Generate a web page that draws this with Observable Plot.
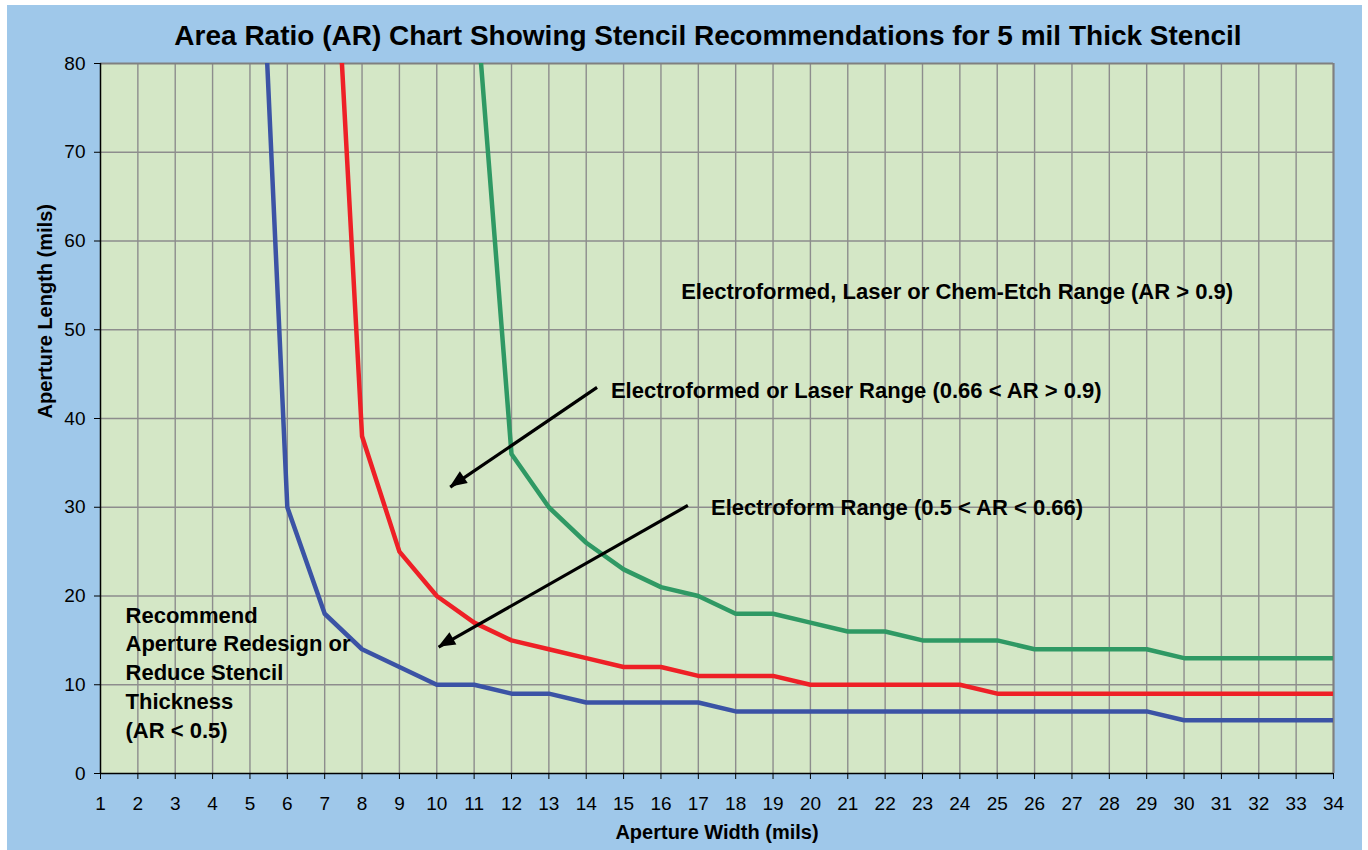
<!DOCTYPE html>
<html>
<head>
<meta charset="utf-8">
<script src="https://cdn.jsdelivr.net/npm/d3@7"></script>
<script src="https://cdn.jsdelivr.net/npm/@observablehq/plot@0.6"></script>
<style>
  html, body { margin: 0; padding: 0; background: #ffffff; }
  #panel { position: absolute; left: 7px; top: 5px; width: 1355px; height: 845px; background: #9fc8ea; font-family: "Liberation Sans", Arial, sans-serif; }
  #title { position: absolute; left: 0; top: 16px; width: 1402px; text-align: center; font-size: 28px; font-weight: bold; line-height: 29px; color: #000; white-space: nowrap; }
  #chart { position: absolute; left: 0; top: 45px; }
</style>
</head>
<body>
<div id="panel">
  <div id="title">Area Ratio (AR) Chart Showing Stencil Recommendations for 5 mil Thick Stencil</div>
  <div id="chart"></div>
</div>
<script>
// ---- data ----
const xTicks = [1,2,3,4,5,6,7,8,9,10,11,12,13,14,15,16,17,18,19,20,21,22,23,24,25,26,27,28,29,30,31,32,33,34];
const yTicks = [0,10,20,30,40,50,60,70,80];

// AR = 0.5 curve (blue)
const blueWidths  = [5,6,7,8,9,10,11,12,13,14,15,16,17,18,19,20,21,22,23,24,25,26,27,28,29,30,31,32,33,34];
const blueLengths = [123,30,18,14,12,10,10,9,9,8,8,8,8,7,7,7,7,7,7,7,7,7,7,7,7,6,6,6,6,6];

// AR = 0.66 curve (red)
const redWidths  = [7,8,9,10,11,12,13,14,15,16,17,18,19,20,21,22,23,24,25,26,27,28,29,30,31,32,33,34];
const redLengths = [116,38,25,20,17,15,14,13,12,12,11,11,11,10,10,10,10,10,9,9,9,9,9,9,9,9,9,9];

// AR = 0.9 curve (green)
const greenWidths  = [11,12,13,14,15,16,17,18,19,20,21,22,23,24,25,26,27,28,29,30,31,32,33,34];
const greenLengths = [90,36,30,26,23,21,20,18,18,17,16,16,15,15,15,14,14,14,14,13,13,13,13,13];

// annotation texts and their anchor points (data units)
const noteTexts = [
  "Electroformed, Laser or Chem-Etch Range (AR > 0.9)",
  "Electroformed or Laser Range (0.66 < AR > 0.9)",
  "Electroform Range (0.5 < AR < 0.66)",
  "Recommend\nAperture Redesign or\nReduce Stencil\nThickness\n(AR < 0.5)"
];
const noteX = [16.54, 14.66, 17.34, 1.67];
const noteY = [54.5, 43.3, 30.2, 11.55];

const arrowFromX = [14.29, 16.72];
const arrowFromY = [43.5, 30.2];
const arrowToX   = [10.36, 10.05];
const arrowToY   = [32.26, 14.23];

const xLabel = "Aperture Width (mils)";
const yLabel = "Aperture Length (mils)";

// ---- build tables ----
const toRows = (xs, ys) => xs.map((x, i) => ({x, y: ys[i]}));
const blue = toRows(blueWidths, blueLengths);
const red = toRows(redWidths, redLengths);
const green = toRows(greenWidths, greenLengths);
const notes = noteTexts.map((t, i) => ({text: t, x: noteX[i], y: noteY[i]}));
const arrows = arrowFromX.map((_, i) => ({x1: arrowFromX[i], y1: arrowFromY[i], x2: arrowToX[i], y2: arrowToY[i]}));

const gridColor = "#8d8d8d";

// filled triangular arrowheads, positioned through the plot's own scales
function arrowHeads(index, scales) {
  const g = d3.create("svg:g").attr("fill", "#000");
  for (const a of arrows) {
    const x1 = scales.x(a.x1), y1 = scales.y(a.y1), x2 = scales.x(a.x2), y2 = scales.y(a.y2);
    const ang = Math.atan2(y2 - y1, x2 - x1);
    const L = 17, W = 7;
    const bx = x2 - L * Math.cos(ang), by = y2 - L * Math.sin(ang);
    const px = -Math.sin(ang) * W, py = Math.cos(ang) * W;
    g.append("path").attr("d", `M${x2},${y2}L${bx + px},${by + py}L${bx - px},${by - py}Z`);
  }
  return g.node();
}

const chart = Plot.plot({
  width: 1355,
  height: 800,
  marginLeft: 93,
  marginRight: 29,
  marginTop: 13,
  marginBottom: 77,
  style: {background: "transparent", fontFamily: "'Liberation Sans', Arial, sans-serif", fontSize: "19px", color: "#000"},
  x: {domain: [1, 34]},
  y: {domain: [0, 80]},
  marks: [
    Plot.frame({fill: "#d4e7c6", stroke: null}),
    Plot.ruleX(xTicks.slice(1, -1), {stroke: gridColor, strokeWidth: 1.4}),
    Plot.ruleY(yTicks.slice(1, -1), {stroke: gridColor, strokeWidth: 1.4}),
    Plot.ruleX([34], {stroke: "#808080", strokeWidth: 2.2}),
    Plot.ruleY([80], {stroke: "#808080", strokeWidth: 2.2}),
    Plot.line(blue, {x: "x", y: "y", stroke: "#3b53a5", strokeWidth: 4.5, clip: true}),
    Plot.line(red, {x: "x", y: "y", stroke: "#ee2026", strokeWidth: 4.5, clip: true}),
    Plot.line(green, {x: "x", y: "y", stroke: "#2f9964", strokeWidth: 4.5, clip: true}),
    Plot.link(arrows, {x1: "x1", y1: "y1", x2: "x2", y2: "y2", stroke: "#000", strokeWidth: 3.2}),
    arrowHeads,
    Plot.text(notes, {x: "x", y: "y", text: "text", textAnchor: "start", lineAnchor: "middle", lineHeight: 1.31, fontSize: 22, fontWeight: "bold", fill: "#000"}),
    Plot.ruleX([1], {stroke: "#000", strokeWidth: 1.5}),
    Plot.ruleY([0], {stroke: "#000", strokeWidth: 1.5}),
    Plot.axisX({ticks: xTicks, tickFormat: d => String(d), tickSize: 6, tickPadding: 17, label: null, fontSize: 19}),
    Plot.axisY({ticks: yTicks, tickFormat: d => String(d), tickSize: 6, tickPadding: 9, label: null, fontSize: 19}),
    Plot.text([xLabel], {frameAnchor: "bottom", dy: 59, text: d => d, fontSize: 20, fontWeight: "bold", lineAnchor: "middle"}),
    Plot.text([yLabel], {frameAnchor: "left", dx: -55, rotate: -90, text: d => d, fontSize: 20, fontWeight: "bold", lineAnchor: "middle"})
  ]
});
document.getElementById("chart").appendChild(chart);
</script>
</body>
</html>
